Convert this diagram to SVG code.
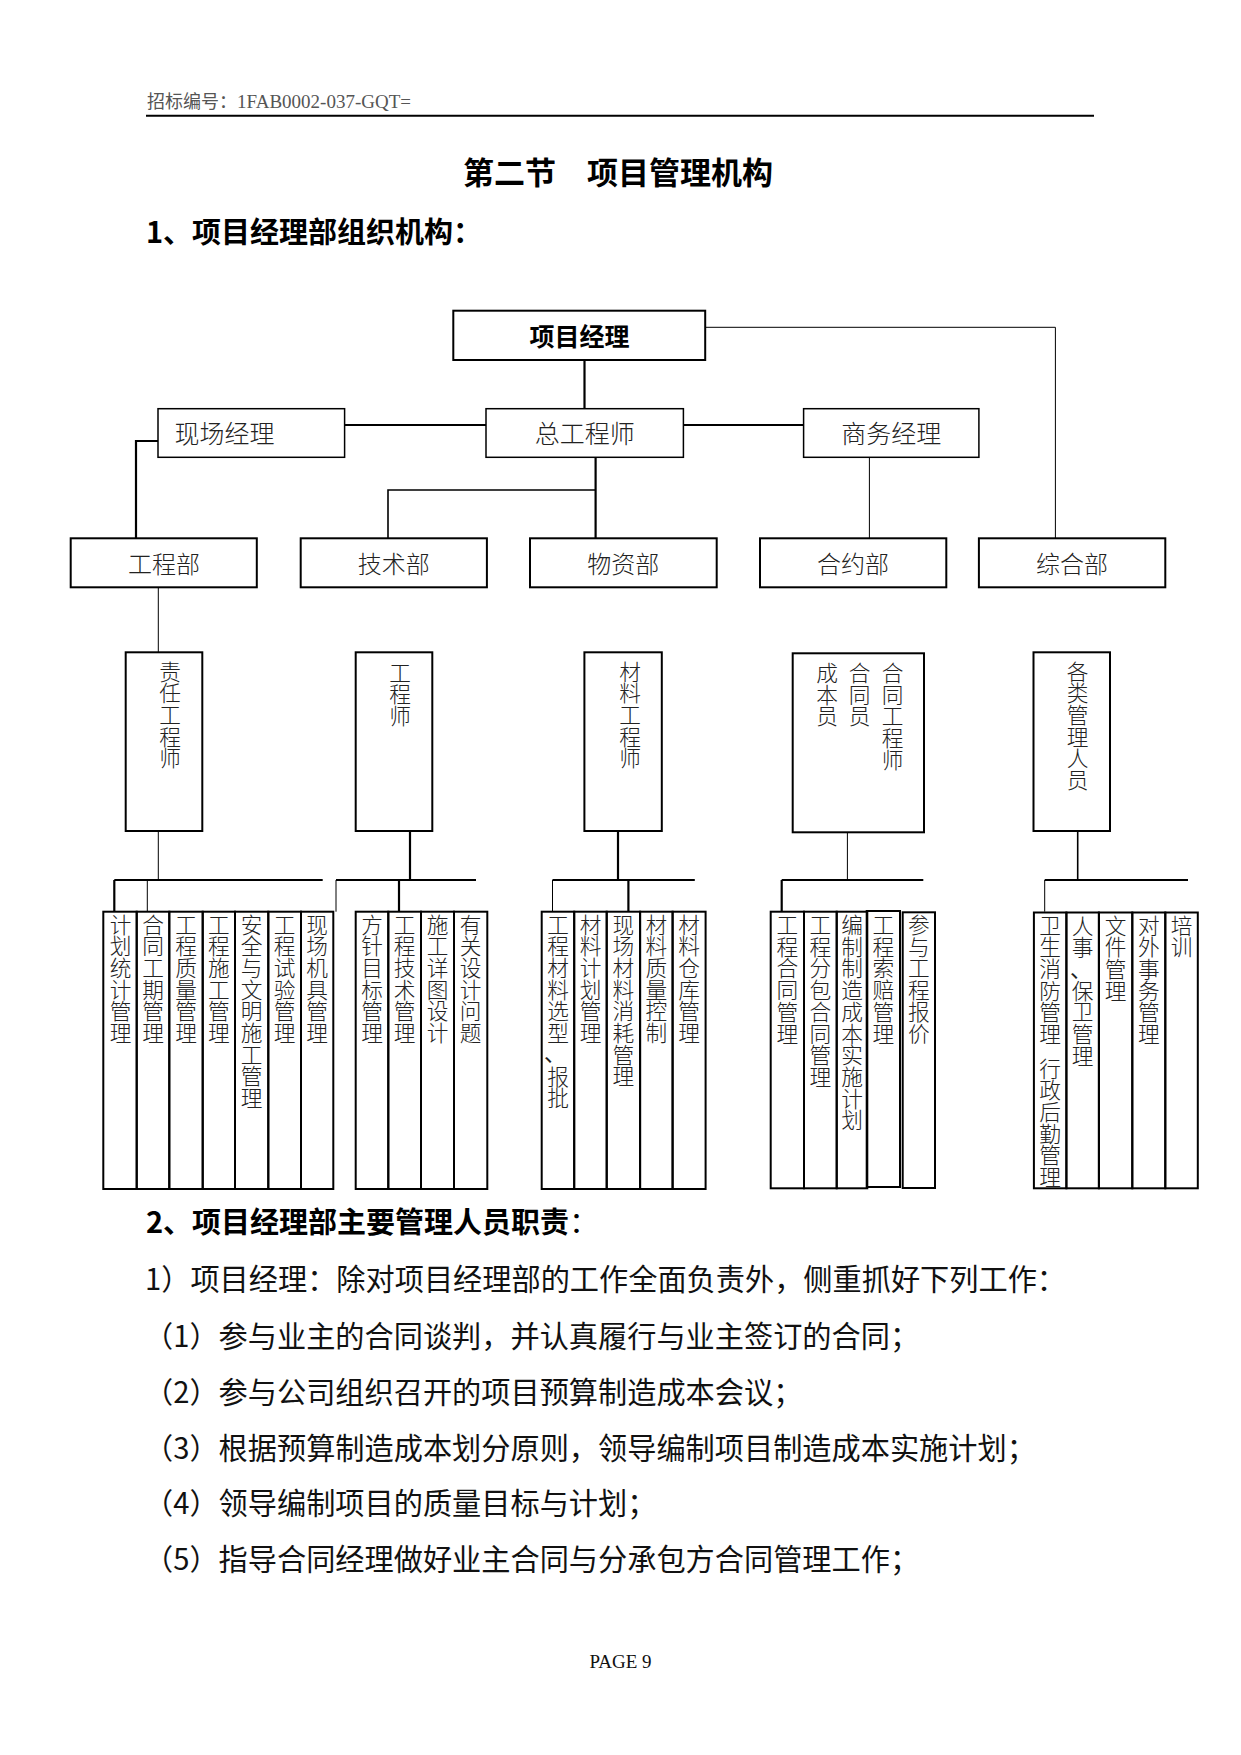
<svg xmlns="http://www.w3.org/2000/svg" width="1241" height="1755" viewBox="0 0 1241 1755">
<style>
.bg{fill:#fff}
.box{fill:#fff;stroke:#000;stroke-width:2}
.box1{fill:#fff;stroke:#000;stroke-width:1.5}
.col{fill:none;stroke:#000;stroke-width:2}
.thick{stroke:#000;stroke-width:2.2;fill:none}
.mid{stroke:#000;stroke-width:1.6;fill:none}
.thin{stroke:#000;stroke-width:1;fill:none}
.cjk{font-family:"Noto Sans CJK SC","Noto Sans",sans-serif;fill:#111}
.lbl{font-family:"Noto Sans CJK SC","Noto Sans",sans-serif;font-size:24px;font-weight:300;fill:#222;text-anchor:middle}
.v{font-family:"Noto Sans CJK SC","Noto Sans",sans-serif;font-size:21.7px;font-weight:300;fill:#222;writing-mode:vertical-rl;text-orientation:upright}
.dot{font-family:"Noto Sans CJK SC","Noto Sans",sans-serif;font-size:21.7px;font-weight:normal;fill:#222}
.h{font-family:"Noto Sans CJK SC","Noto Sans",sans-serif;font-size:29px;font-weight:bold;fill:#000}
.body{font-family:"Noto Sans CJK SC","Noto Sans",sans-serif;font-size:29.2px;fill:#111}
</style>
<rect class="bg" x="0" y="0" width="1241" height="1755"/>

<!-- page header -->
<text x="147" y="108" style="font-family:'Liberation Serif','Noto Sans CJK SC',serif;font-size:18px;fill:#555">招标编号：<tspan style="font-size:19px">1FAB0002-037-GQT=</tspan></text>
<line x1="146" y1="115.7" x2="1094" y2="115.7" stroke="#000" stroke-width="2"/>

<!-- titles -->
<text class="cjk" x="463" y="184" style="font-size:31px;font-weight:bold;fill:#000">第二节</text>
<text class="cjk" x="587" y="184" style="font-size:31px;font-weight:bold;fill:#000">项目管理机构</text>
<text class="h" x="146" y="243">1、项目经理部组织机构：</text>

<!-- connectors -->
<g id="connectors">
  <line class="thick" x1="584.5" y1="360" x2="584.5" y2="409"/>
  <line class="thick" x1="344.6" y1="425" x2="486" y2="425"/>
  <line class="thick" x1="683.4" y1="425" x2="803.6" y2="425"/>
  <polyline class="thick" points="158,441 136,441 136,538"/>
  <line class="thick" x1="595.6" y1="457.3" x2="595.6" y2="538"/>
  <polyline class="mid" points="595.6,490 388,490 388,538"/>
  <polyline class="thin" points="705.2,327.3 1055.4,327.3 1055.4,538"/>
  <line class="thin" x1="869.4" y1="457.3" x2="869.4" y2="538"/>
  <line class="thin" x1="158.3" y1="587.3" x2="158.3" y2="652.3"/>

  <!-- 工程部 group -->
  <line class="thin" x1="158.3" y1="831" x2="158.3" y2="880"/>
  <line class="thick" x1="114.3" y1="880" x2="322.7" y2="880"/>
  <line class="thick" x1="114.3" y1="880" x2="114.3" y2="911.7"/>
  <line class="thin" x1="147.3" y1="880" x2="147.3" y2="911.7"/>
  <!-- 技术部 group -->
  <line class="thick" x1="410" y1="831" x2="410" y2="880"/>
  <line class="thick" x1="336" y1="880" x2="476" y2="880"/>
  <line class="thin" x1="336" y1="880" x2="336" y2="911.7"/>
  <line class="thick" x1="399" y1="880" x2="399" y2="911.7"/>
  <!-- 物资部 group -->
  <line class="thick" x1="618" y1="831" x2="618" y2="880"/>
  <line class="thick" x1="552.5" y1="880" x2="694.8" y2="880"/>
  <line class="thin" x1="552.5" y1="880" x2="552.5" y2="911.7"/>
  <line class="thick" x1="628.4" y1="880" x2="628.4" y2="911.7"/>
  <!-- 合约部 group -->
  <line class="thin" x1="847.4" y1="832.3" x2="847.4" y2="880"/>
  <line class="thick" x1="781.7" y1="880" x2="923.3" y2="880"/>
  <line class="thick" x1="781.7" y1="880" x2="781.7" y2="911.7"/>
  <!-- 综合部 group -->
  <line class="mid" x1="1077.7" y1="831" x2="1077.7" y2="880"/>
  <line class="thick" x1="1044.7" y1="880" x2="1188" y2="880"/>
  <line class="thin" x1="1044.7" y1="880" x2="1044.7" y2="911.7"/>
</g>

<!-- top level -->
<g id="n-pm"><rect class="box" x="453.3" y="310.7" width="251.9" height="49.3"/><text class="cjk" x="579.5" y="345.5" text-anchor="middle" style="font-size:25px;font-weight:bold;fill:#000">项目经理</text></g>
<g id="n-site"><rect class="box1" x="158" y="408.7" width="186.6" height="48.6"/><text class="lbl" x="174.6" y="442.5" style="text-anchor:start;font-size:25px">现场经理</text></g>
<g id="n-chief"><rect class="box1" x="486" y="408.7" width="197.4" height="48.6"/><text class="lbl" x="584.7" y="442.5" style="font-size:25px">总工程师</text></g>
<g id="n-biz"><rect class="box1" x="803.6" y="408.7" width="175.3" height="48.6"/><text class="lbl" x="891.3" y="442.5" style="font-size:25px">商务经理</text></g>

<!-- departments -->
<g id="d-eng"><rect class="box" x="70.7" y="538.3" width="186.1" height="49"/><text class="lbl" x="164" y="572.5">工程部</text></g>
<g id="d-tech"><rect class="box" x="300.7" y="538.3" width="186.2" height="49"/><text class="lbl" x="393.8" y="572.5">技术部</text></g>
<g id="d-mat"><rect class="box" x="530" y="538.3" width="186.7" height="49"/><text class="lbl" x="623.3" y="572.5">物资部</text></g>
<g id="d-con"><rect class="box" x="760" y="538.3" width="186.3" height="49"/><text class="lbl" x="853.1" y="572.5">合约部</text></g>
<g id="d-gen"><rect class="box" x="978.9" y="538.3" width="186.4" height="49"/><text class="lbl" x="1072" y="572.5">综合部</text></g>

<!-- role boxes -->
<g id="r-eng"><rect class="box" x="125.7" y="652.3" width="76.6" height="178.7"/><text class="v" x="170" y="660.5">责任工程师</text></g>
<g id="r-tech"><rect class="box" x="355.7" y="652.3" width="76.6" height="178.7"/><text class="v" x="400" y="661.5">工程师</text></g>
<g id="r-mat"><rect class="box" x="584.4" y="652.3" width="77.4" height="178.7"/><text class="v" x="630" y="660.5">材料工程师</text></g>
<g id="r-con"><rect class="box" x="792.7" y="653.3" width="131.3" height="179"/><text class="v" x="827" y="662">成本员</text><text class="v" x="859.5" y="662">合同员</text><text class="v" x="892.6" y="662">合同工程师</text></g>
<g id="r-gen"><rect class="box" x="1033.5" y="652.3" width="76.5" height="178.7"/><text class="v" x="1077.7" y="660.5">各类管理人员</text></g>

<!-- 工程部 tasks -->
<g id="t-eng">
  <rect class="col" x="103.3" y="911.7" width="33.4" height="277.3"/>
  <rect class="col" x="136.7" y="911.7" width="32.6" height="277.3"/>
  <rect class="col" x="169.3" y="911.7" width="33.4" height="277.3"/>
  <rect class="col" x="202.7" y="911.7" width="32.3" height="277.3"/>
  <rect class="col" x="235" y="911.7" width="33.3" height="277.3"/>
  <rect class="col" x="268.3" y="911.7" width="32.7" height="277.3"/>
  <rect class="col" x="301" y="911.7" width="32.3" height="277.3"/>
  <text class="v" x="120.5" y="913.5">计划统计管理</text>
  <text class="v" x="153" y="913.5">合同工期管理</text>
  <text class="v" x="186" y="913.5">工程质量管理</text>
  <text class="v" x="218.9" y="913.5">工程施工管理</text>
  <text class="v" x="251.7" y="913.5">安全与文明施工管理</text>
  <text class="v" x="284.7" y="913.5">工程试验管理</text>
  <text class="v" x="317.2" y="913.5">现场机具管理</text>
</g>

<!-- 技术部 tasks -->
<g id="t-tech">
  <rect class="col" x="355.7" y="911.7" width="32.6" height="277.3"/>
  <rect class="col" x="388.3" y="911.7" width="32.7" height="277.3"/>
  <rect class="col" x="421" y="911.7" width="33" height="277.3"/>
  <rect class="col" x="454" y="911.7" width="33.3" height="277.3"/>
  <text class="v" x="372" y="913.5">方针目标管理</text>
  <text class="v" x="404.7" y="913.5">工程技术管理</text>
  <text class="v" x="437.5" y="913.5">施工详图设计</text>
  <text class="v" x="470.7" y="913.5">有关设计问题</text>
</g>

<!-- 物资部 tasks -->
<g id="t-mat">
  <rect class="col" x="541.7" y="911.7" width="32.5" height="277.3"/>
  <rect class="col" x="574.2" y="911.7" width="32.5" height="277.3"/>
  <rect class="col" x="606.7" y="911.7" width="33.4" height="277.3"/>
  <rect class="col" x="640.1" y="911.7" width="32.5" height="277.3"/>
  <rect class="col" x="672.6" y="911.7" width="33" height="277.3"/>
  <text class="v" x="558" y="913.5">工程材料选型</text>
  <text class="dot" x="544" y="1061">、</text>
  <text class="v" x="558" y="1065.5">报批</text>
  <text class="v" x="590.5" y="913.5">材料计划管理</text>
  <text class="v" x="623.4" y="913.5">现场材料消耗管理</text>
  <text class="v" x="656.4" y="913.5">材料质量控制</text>
  <text class="v" x="689.1" y="913.5">材料仓库管理</text>
</g>

<!-- 合约部 tasks -->
<g id="t-con">
  <rect class="col" x="770.7" y="911.7" width="33.3" height="276.6"/>
  <rect class="col" x="804" y="911.7" width="32.7" height="276.6"/>
  <rect class="col" x="836.7" y="911.7" width="30.6" height="276.6"/>
  <rect class="col" x="866.7" y="911" width="33.3" height="276"/>
  <rect class="col" x="902.7" y="912.3" width="32.3" height="275.7"/>
  <text class="v" x="787.4" y="914">工程合同管理</text>
  <text class="v" x="820.4" y="914">工程分包合同管理</text>
  <text class="v" x="852" y="914">编制制造成本实施计划</text>
  <text class="v" x="883.4" y="914">工程索赔管理</text>
  <text class="v" x="918.9" y="914">参与工程报价</text>
</g>

<!-- 综合部 tasks -->
<g id="t-gen">
  <rect class="col" x="1033.9" y="912.5" width="32.5" height="275.8"/>
  <rect class="col" x="1066.4" y="912.5" width="32.5" height="275.8"/>
  <rect class="col" x="1098.9" y="912.5" width="33.4" height="275.8"/>
  <rect class="col" x="1132.3" y="912.5" width="33" height="275.8"/>
  <rect class="col" x="1165.3" y="912.5" width="32.5" height="275.8"/>
  <text class="v" x="1050.2" y="914.5">卫生消防管理</text>
  <text class="v" x="1050.2" y="1057.5">行政后勤管理</text>
  <text class="v" x="1082.7" y="914.5">人事</text>
  <text class="dot" x="1070" y="977">、</text>
  <text class="v" x="1082.7" y="979.5">保卫管理</text>
  <text class="v" x="1115.6" y="914.5">文件管理</text>
  <text class="v" x="1148.8" y="914.5">对外事务管理</text>
  <text class="v" x="1181.6" y="914.5">培训</text>
</g>

<!-- section 2 text -->
<text class="h" x="146" y="1233">2、项目经理部主要管理人员职责<tspan style="font-weight:normal">：</tspan></text>
<text class="body" x="145" y="1290">1）项目经理：除对项目经理部的工作全面负责外，侧重抓好下列工作：</text>
<text class="body" x="144" y="1347">（1）参与业主的合同谈判，并认真履行与业主签订的合同；</text>
<text class="body" x="144" y="1403">（2）参与公司组织召开的项目预算制造成本会议；</text>
<text class="body" x="144" y="1459">（3）根据预算制造成本划分原则，领导编制项目制造成本实施计划；</text>
<text class="body" x="144" y="1514">（4）领导编制项目的质量目标与计划；</text>
<text class="body" x="144" y="1570">（5）指导合同经理做好业主合同与分承包方合同管理工作；</text>

<text x="620.5" y="1668" text-anchor="middle" style="font-family:'Liberation Serif',serif;font-size:19px;fill:#111">PAGE 9</text>
</svg>
